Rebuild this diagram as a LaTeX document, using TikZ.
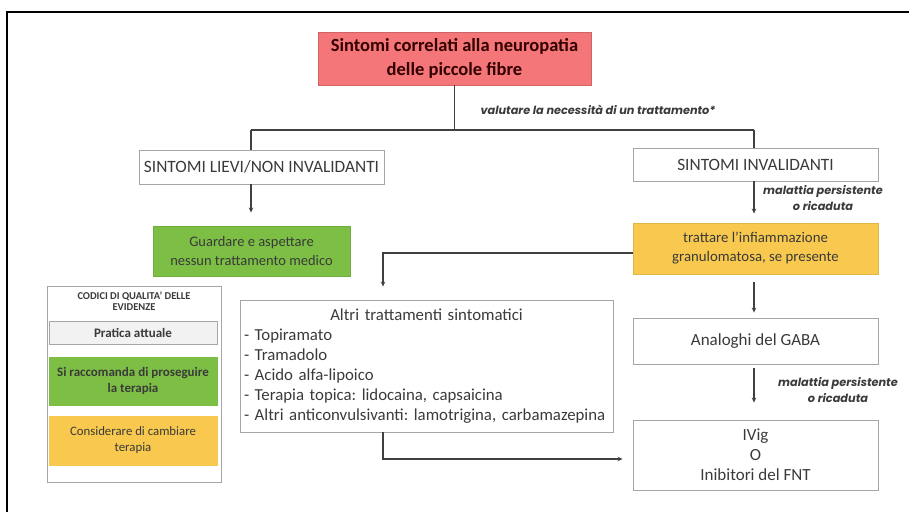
\documentclass[tikz,border=0pt]{standalone}
\usepackage{fontspec}
\setmainfont{Carlito}
\newfontfamily\notefont{Poppins}
\usetikzlibrary{arrows.meta}

\definecolor{redfill}{HTML}{F47679}
\definecolor{greenfill}{HTML}{7DBF45}
\definecolor{yellowfill}{HTML}{F8C94E}
\definecolor{grayfill}{HTML}{F2F2F2}
\definecolor{boxline}{HTML}{A6A6A6}
\definecolor{linkline}{HTML}{404040}
\definecolor{txt}{HTML}{3A3A3A}

\tikzset{
  box/.style={draw=boxline, line width=0.9pt, align=center, inner sep=2pt,
              text=txt, anchor=center},
  legbox/.style={draw=boxline, line width=0.9pt, inner sep=2pt, text=txt,
                 anchor=center, minimum width=168pt},
  link/.style={draw=linkline, line width=1.4pt},
  arrowlink/.style={link, -{Stealth[length=5pt,width=4.5pt]}, shorten >=9pt},
  note/.style={font=\notefont\fontsize{11.3}{16}\selectfont\bfseries\itshape, text=txt, align=center},
}

% two centred lines stacked, used inside the legend
\newcommand{\twolines}[2]{\begin{tabular}{@{}c@{}}#1\\#2\end{tabular}}

\begin{document}
\frenchspacing
\begin{tikzpicture}[x=1pt,y=-1pt]
\useasboundingbox (0,0) rectangle (909,511);

% outer frame (open on the right and bottom edges)
\draw[line width=1.5pt, black] (7,520) -- (7,12) -- (920,12);

% main boxes
\node[box, fill=redfill, draw=redfill!85!black, minimum width=273pt, minimum height=53pt,
      font=\fontsize{18.5}{24}\selectfont\bfseries, text=black!80!red]
  (red) at (454.5,58.5) {Sintomi correlati alla neuropatia\\delle piccole fibre};

\node[box, minimum width=245pt, minimum height=34pt, font=\fontsize{17.3}{20}\selectfont]
  (lievi) at (261.5,167) {SINTOMI LIEVI/NON INVALIDANTI};

\node[box, minimum width=245pt, minimum height=33pt, font=\fontsize{17.3}{20}\selectfont]
  (inval) at (755.5,164.5) {SINTOMI INVALIDANTI};

\node[box, fill=greenfill, draw=greenfill!90!black, minimum width=197pt, minimum height=50pt,
      font=\fontsize{14.5}{19}\selectfont]
  (green) at (251.5,251) {Guardare e aspettare\\nessun trattamento medico};

\node[box, fill=yellowfill, draw=yellowfill!90!black, minimum width=245pt, minimum height=51pt,
      font=\fontsize{14.8}{19}\selectfont]
  (yellow) at (755.5,248.5) {trattare l'infiammazione\\granulomatosa, se presente};

\node[box, minimum width=373pt, minimum height=132pt, font=\fontsize{16.8}{20}\selectfont,
      align=left, text width=365pt]
  (altri) at (426.5,366)
  {\centering Altri trattamenti sintomatici\par
   \raggedright - Topiramato\\
   - Tramadolo\\
   - Acido alfa-lipoico\\
   - Terapia topica: lidocaina, capsaicina\\
   - Altri anticonvulsivanti: lamotrigina, carbamazepina};

\node[box, minimum width=245pt, minimum height=46pt, font=\fontsize{17}{20}\selectfont]
  (gaba) at (755.5,341) {Analoghi del GABA};

\node[box, minimum width=245pt, minimum height=70pt, font=\fontsize{17}{20}\selectfont]
  (ivig) at (755.5,455) {IVig\\O\\Inibitori del FNT};

% legend of evidence codes
\node[legbox, minimum width=174pt, minimum height=196pt] (legend) at (134,384) {};
\node[font=\fontsize{10.5}{12}\selectfont\bfseries, text=txt, inner sep=0pt]
  (legtitle) at (134,303) {\renewcommand{\arraystretch}{0.95}\twolines{CODICI DI QUALITA' DELLE}{EVIDENZE}};
\node[legbox, fill=grayfill, minimum height=23pt, font=\fontsize{13}{15}\selectfont\bfseries]
  (leggray) at (133,332.5) {Pratica attuale};
\node[legbox, fill=greenfill, draw=greenfill, minimum height=48pt,
      font=\fontsize{13}{16}\selectfont\bfseries]
  (leggreen) at (133,381) {\twolines{Si raccomanda di proseguire}{la terapia}};
\node[legbox, fill=yellowfill, draw=yellowfill, minimum height=49pt,
      font=\fontsize{12.8}{16}\selectfont]
  (legyellow) at (133,440.5) {\twolines{Considerare di cambiare}{terapia}};

% branching under the title box
\coordinate (jc) at (454.5,130);
\coordinate (jl) at (251,130);
\coordinate (jr) at (754,130);
\draw[link] (red.south) -- (jc);
\draw[link] (jl) -- (jr);
\draw[link] (jl) -- (jl |- lievi.north);
\draw[link] (jr) -- (jr |- inval.north);
\node[note, anchor=west] (valuta) at (477,110) {valutare la necessità di un trattamento*};

% left branch
\draw[arrowlink, shorten >=13pt] (jl |- lievi.south) -- (jl |- green.north);

% right branch
\draw[arrowlink] (jr |- inval.south) -- (jr |- yellow.north);
\node[note] (note1) at (823,198) {malattia persistente\\o ricaduta};
\draw[arrowlink, shorten <=8pt, shorten >=5pt] (jr |- yellow.south) -- (jr |- gaba.north);
\draw[arrowlink, shorten <=4pt, shorten >=17pt] (jr |- gaba.south) -- (jr |- ivig.north);
\node[note] (note2) at (838,390) {malattia persistente\\o ricaduta};

% side path through the other symptomatic treatments
\coordinate (ya) at (383,253);
\draw[arrowlink, shorten >=13pt] (yellow.west |- ya) -- (ya) -- (ya |- altri.north);
\coordinate (yb) at (383,459);
\draw[arrowlink, shorten >=10pt] (yb |- altri.south) -- (yb) -- (yb -| ivig.west);
\end{tikzpicture}
\end{document}
